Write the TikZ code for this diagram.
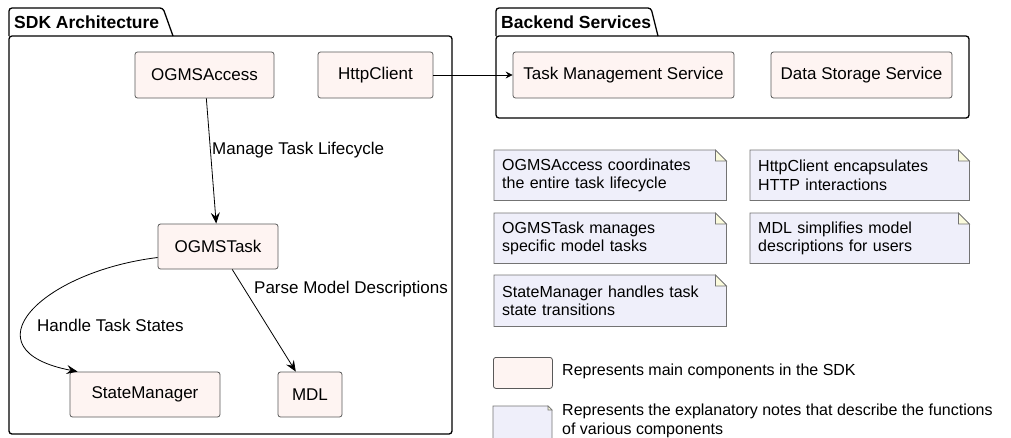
\documentclass[tikz,border=0pt]{standalone}
\usepackage{fontspec}
\setmainfont{Liberation Sans}
\usepackage{tikz}
\usetikzlibrary{arrows.meta}
\usetikzlibrary{positioning}
\usetikzlibrary{backgrounds}
\definecolor{cfill}{rgb}{0.996, 0.957, 0.949}
\definecolor{cline}{rgb}{0.35, 0.35, 0.35}
\definecolor{nfill}{rgb}{0.937, 0.937, 0.980}
\definecolor{nline}{rgb}{0.45, 0.45, 0.45}
\definecolor{nfold}{rgb}{0.984, 0.984, 0.867}
\tikzset{comp/.style = {draw = cline, fill = cfill, rounded corners = 2.5, line width = 0.8,
    minimum height = 46, inner sep = 0}}
\tikzset{note/.style = {anchor = north west, align = left, inner xsep = 8, inner ysep = 0,
    font = \fontsize{16}{18.5}\selectfont}}
\tikzset{lbl/.style = {anchor = west, inner sep = 0}}
\tikzset{pkg/.style = {line width = 1.3, rounded corners = 3}}
\tikzset{arr/.style = {-{Stealth[length=11, width=9, inset=4]}, line width = 0.8}}

\begin{document}
\begin{tikzpicture}[x=1pt, y=-1pt, font=\fontsize{17}{19.5}\selectfont]
      \useasboundingbox (0, 0) rectangle (1011, 437);

      % packages
      \draw [pkg] (9, 36) -- (9, 8) -- (163, 8) [sharp corners] -- (173, 36);
      \draw [pkg] (9, 36) rectangle (452, 434);
      \node [lbl, font=\fontsize{17.5}{19.5}\selectfont\bfseries] (sdk) at (14, 22) {SDK Architecture};

      \draw [pkg] (496, 36) -- (496, 8) -- (651, 8) [sharp corners] -- (658, 36);
      \draw [pkg] (496, 36) rectangle (969, 118);
      \node [lbl, font=\fontsize{17.5}{19.5}\selectfont\bfseries] (back) at (501, 22) {Backend Services};

      % components
      \node [comp, minimum width=139] (acc) at (204.5, 75) {OGMSAccess};
      \node [comp, minimum width=115] (http) at (375.5, 75) {HttpClient};
      \node [comp, minimum width=120, minimum height=45] (task) at (218, 246.5) {OGMSTask};
      \node [comp, minimum width=150, minimum height=45] (sm) at (145, 394.5) {StateManager};
      \node [comp, minimum width=64, minimum height=45] (mdl) at (310, 394.5) {MDL};
      \node [comp, minimum width=221] (tms) at (623.5, 75) {Task Management Service};
      \node [comp, minimum width=181] (dss) at (861.5, 75) {Data Storage Service};

      \draw [arr] (acc) -- (task);
      \draw [arr] (task) -- (mdl);
      \draw [arr] ([yshift=-11]task.west)
            .. controls (40, 272) and (-35, 350) .. ([xshift=8]sm.north west);
      \draw [-{Stealth[length=7, width=7, inset=2.5]}, line width=0.8] (http) -- (tms);

      \node [lbl] (l1) at (212, 150) {Manage Task Lifecycle};
      \node [lbl] (l2) at (254, 289) {Parse Model Descriptions};
      \node [lbl] (l3) at (37, 325) {Handle Task States};

      % notes
      \node [note, minimum width=232, minimum height=50, text width=216] (n1) at (494, 150)
            {OGMSAccess coordinates\\the entire task lifecycle};
      \node [note, minimum width=219, minimum height=50, text width=203] (n2) at (750, 150)
            {HttpClient encapsulates\\HTTP interactions};
      \node [note, minimum width=232, minimum height=50, text width=216] (n3) at (494, 213)
            {OGMSTask manages\\specific model tasks};
      \node [note, minimum width=219, minimum height=50, text width=203] (n4) at (750, 213)
            {MDL simplifies model\\descriptions for users};
      \node [note, minimum width=232, minimum height=51, text width=216] (n5) at (494, 275)
            {StateManager handles task\\state transitions};

      \begin{scope}[on background layer]
      \foreach \n in {n1, n2, n3, n4, n5} {
        \draw [fill=nfill, draw=nline, line width=0.8] (\n.north west) -- ([xshift=-11]\n.north east)
              -- ([yshift=-11]\n.north east) -- (\n.south east) -- (\n.south west) -- cycle;
        \draw [fill=nfold, draw=nline, line width=0.8] ([xshift=-11]\n.north east)
              -- ([xshift=-11, yshift=-11]\n.north east) -- ([yshift=-11]\n.north east) -- cycle;
      }
      \end{scope}

      % legend
      \node [comp, minimum width=59, minimum height=31, anchor=north west] (legc) at (493, 357) {};
      \node [lbl, font=\fontsize{16}{18.5}\selectfont] (legct) at (562, 371) {Represents main components in the SDK};
      \draw [fill=nfill, draw=nline, line width=0.8] (493, 406) -- (548, 406) -- (552, 410)
            -- (552, 445) -- (493, 445) -- cycle;
      \draw [fill=nfold, draw=nline, line width=0.6] (548, 406) -- (548, 410) -- (552, 410) -- cycle;
      \node [note, inner xsep=0] (legnt) at (562, 404)
            {Represents the explanatory notes that describe the functions\\of various components};
    \end{tikzpicture}
\end{document}
